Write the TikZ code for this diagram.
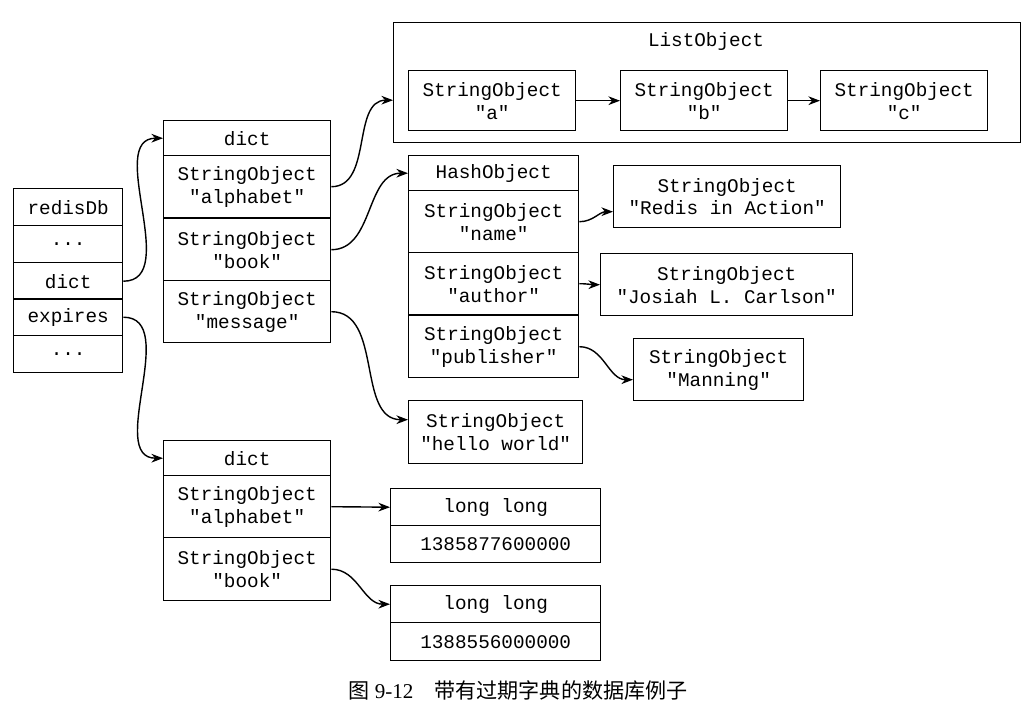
\documentclass[tikz,border=0pt]{standalone}
\usepackage{fontspec}
\setmonofont{Liberation Mono}
\setmainfont{Liberation Serif}
\newfontfamily\cjk{Noto Sans CJK SC}
\usetikzlibrary{positioning, arrows.meta}
\begin{document}
\begin{tikzpicture}[
			x=0.02cm, y=-0.02cm,
			% GLOBAL CFG
			font=\ttfamily\fontsize{11}{13}\selectfont,
			>=Stealth,
			% Styles
			cell/.style={% table rows
				rectangle,
				draw=black,
				thick,
				anchor=north west,
				align=center,
				inner sep=1pt,
			},
			link/.style={% curved pointers
				->,
				thick,
			},
			]
			\useasboundingbox (0,0) rectangle (1036,727);
			% redisDb
			\foreach \t/\y/\n in {redisDb/188/r1, {...}/225/r2, dict/262/r3, expires/298/r4, {...}/335/r5}
				\node [cell, minimum width=2.18cm, minimum height=0.74cm] (\n) at (13,\y) {\t};
			
			% first dict
			\node [cell, minimum width=3.34cm, minimum height=0.7cm] (d1) at (163,120) {dict};
			\node [cell, minimum width=3.34cm, minimum height=1.24cm] (d1a) at (163,155) {StringObject\\"alphabet"};
			\node [cell, minimum width=3.34cm, minimum height=1.24cm] (d1b) at (163,218) {StringObject\\"book"};
			\node [cell, minimum width=3.34cm, minimum height=1.24cm] (d1m) at (163,280) {StringObject\\"message"};
			
			% ListObject
			\node [cell, minimum width=12.54cm, minimum height=2.4cm] (lst) at (393,22) {};
			\node (lstT) at (706,42) {ListObject};
			\node [cell, minimum width=3.34cm, minimum height=1.2cm] (sa) at (408,70) {StringObject\\"a"};
			\node [cell, minimum width=3.34cm, minimum height=1.2cm] (sb) at (620,70) {StringObject\\"b"};
			\node [cell, minimum width=3.34cm, minimum height=1.2cm] (sc) at (820,70) {StringObject\\"c"};
			\draw [->, thick] (sa) -- (sb);
			\draw [->, thick] (sb) -- (sc);
			
			% HashObject
			\node [cell, minimum width=3.4cm, minimum height=0.7cm] (h) at (408,155) {HashObject};
			\node [cell, minimum width=3.4cm, minimum height=1.24cm] (hn) at (408,190) {StringObject\\"name"};
			\node [cell, minimum width=3.4cm, minimum height=1.24cm] (ha) at (408,252) {StringObject\\"author"};
			\node [cell, minimum width=3.4cm, minimum height=1.24cm] (hp) at (408,315) {StringObject\\"publisher"};
			\node [cell, minimum width=4.54cm, minimum height=1.24cm] (vn) at (613,165) {StringObject\\"Redis in Action"};
			\node [cell, minimum width=5.04cm, minimum height=1.24cm] (va) at (600,253) {StringObject\\"Josiah L. Carlson"};
			\node [cell, minimum width=3.4cm, minimum height=1.24cm] (vp) at (633,338) {StringObject\\"Manning"};
			\node [cell, minimum width=3.48cm, minimum height=1.26cm] (hw) at (408,400) {StringObject\\"hello world"};
			
			% expires dict
			\node [cell, minimum width=3.34cm, minimum height=0.7cm] (d2) at (163,440) {dict};
			\node [cell, minimum width=3.34cm, minimum height=1.24cm] (d2a) at (163,475) {StringObject\\"alphabet"};
			\node [cell, minimum width=3.34cm, minimum height=1.26cm] (d2b) at (163,537) {StringObject\\"book"};
			\node [cell, minimum width=4.2cm, minimum height=0.74cm] (l1) at (390,488) {long long};
			\node [cell, minimum width=4.2cm, minimum height=0.74cm] (l1v) at (390,525) {1385877600000};
			\node [cell, minimum width=4.2cm, minimum height=0.74cm] (l2) at (390,585) {long long};
			\node [cell, minimum width=4.2cm, minimum height=0.76cm] (l2v) at (390,622) {1388556000000};
			
			% Drawing arrows
			\draw [link] (r3.east) to[out=0, in=180] (d1.west);
			\draw [link] (r4.east) to[out=0, in=180] (d2.west);
			\draw [link] (d1a.east) to[out=0, in=180] ([yshift=-0.35cm]lst.west);
			\draw [link] (d1b.east) to[out=0, in=180] (h.west);
			\draw [link] (d1m.east) to[out=0, in=180] ([yshift=0.25cm]hw.west);
			\draw [link] (hn.east) to[out=0, in=180] ([yshift=-0.3cm]vn.west);
			\draw [link] (ha.east) to[out=0, in=180] (va.west);
			\draw [link] (hp.east) to[out=0, in=180] ([yshift=-0.2cm]vp.west);
			\draw [link] (d2a.east) -- (l1.west);
			\draw [link] (d2b.east) to[out=0, in=180] (l2.west);
			
			% caption
			\node [font=\rmfamily\fontsize{12}{14}\selectfont] (cap) at (518,690) {{\cjk 图} 9-12\quad{\cjk 带有过期字典的数据库例子}};
		\end{tikzpicture}
\end{document}
